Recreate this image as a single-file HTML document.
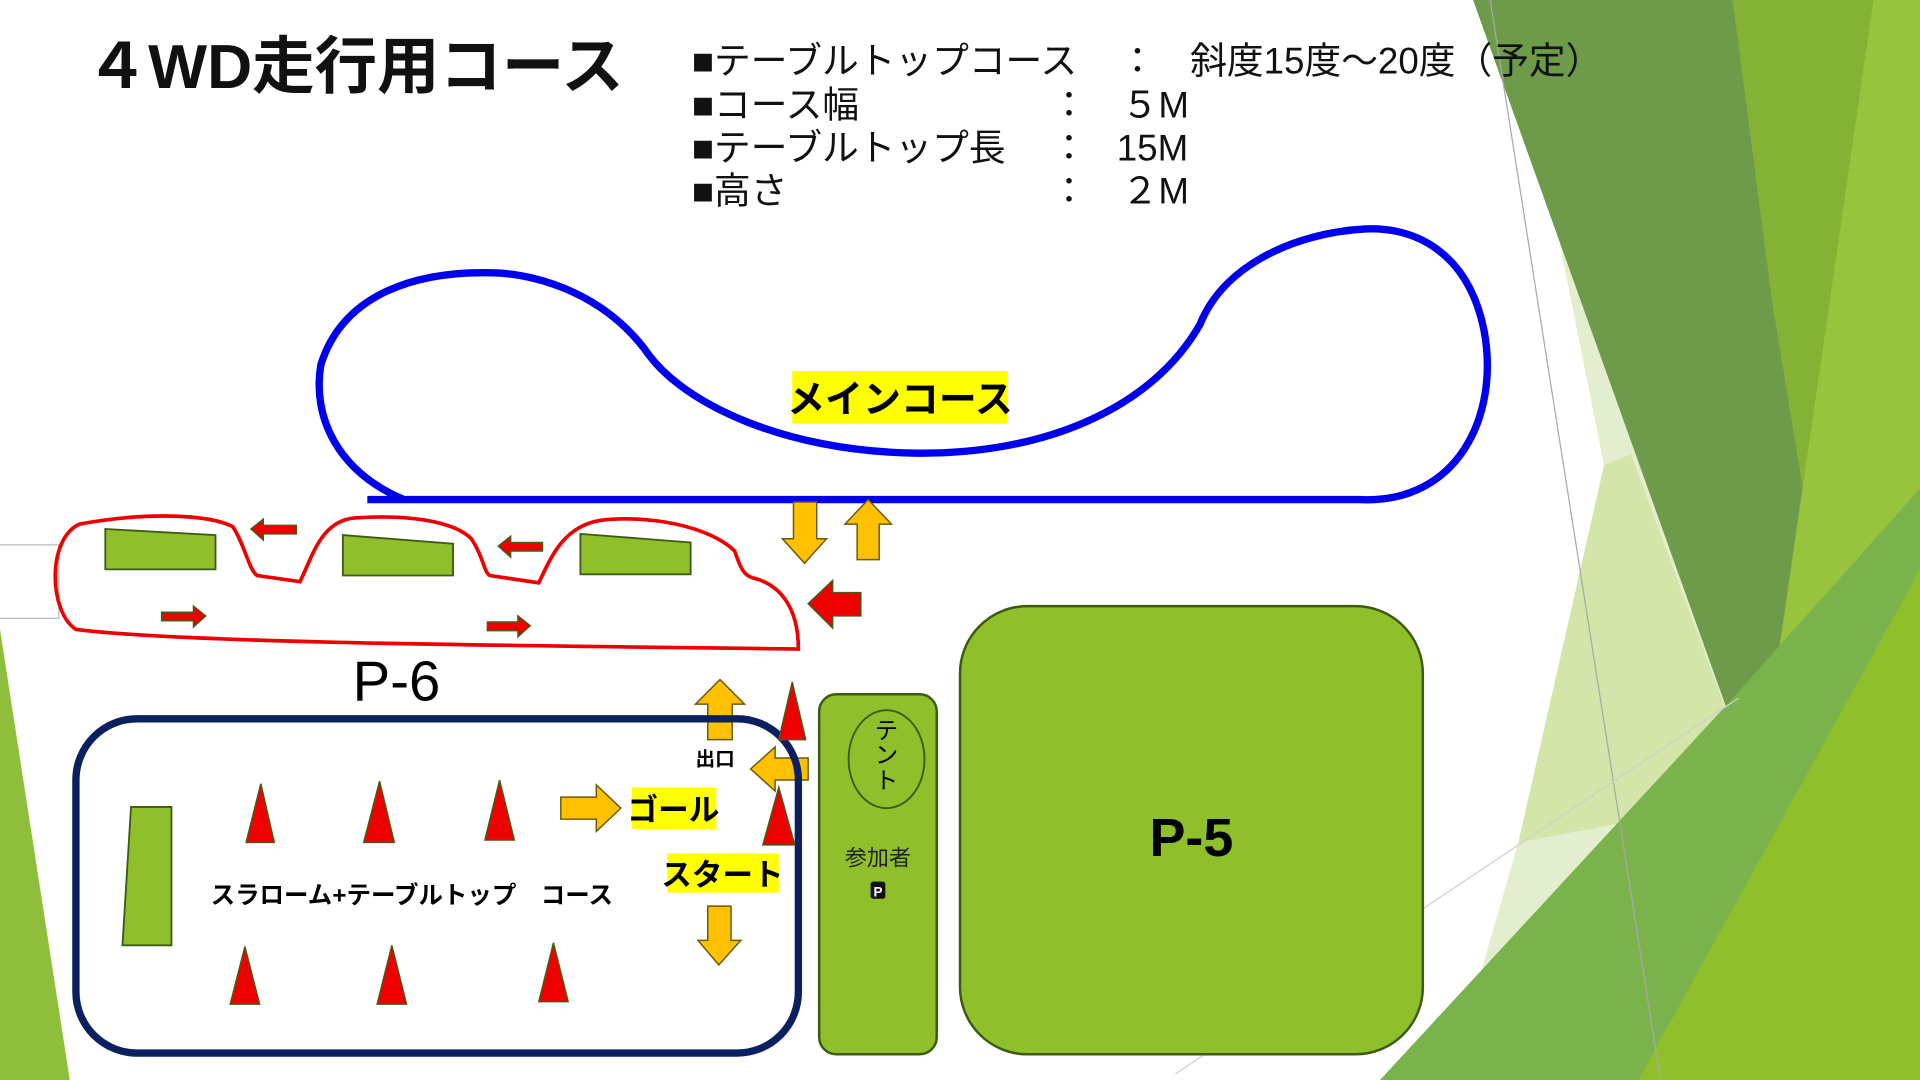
<!DOCTYPE html>
<html><head><meta charset="utf-8"><style>
html,body{margin:0;padding:0;background:#fff;overflow:hidden}
svg{display:block}
text{font-family:"Liberation Sans","Noto Sans CJK JP",sans-serif}
</style></head><body>
<svg width="1920" height="1080" viewBox="0 0 1568 882" xmlns="http://www.w3.org/2000/svg">
<rect width="1568" height="882" fill="#fff"/>
<!-- background decorations -->
<polygon points="0,514 0,882 57,882" fill="#8fbf3a"/>
<polyline points="0,445 48,445 48,505 0,505" fill="none" stroke="#bbb" stroke-width="1"/>
<polygon points="1272,190 1436,651 1184,882 1240,688 1310,380" fill="#e3eecf"/>
<polygon points="1310,380 1332,371 1436,651 1240,688" fill="#d3e5a8"/>
<polygon points="1415,0 1568,0 1568,600 1436,651" fill="#84b234"/>
<polygon points="1203,0 1415,0 1447,245 1473,403 1436,651" fill="#6d9b4a"/>
<polygon points="1530,0 1568,0 1568,882 1380,882 1426,716" fill="#97c43c"/>
<polygon points="1127,882 1408,578 1568,399 1568,882" fill="#7ab24c"/>
<polygon points="1338,882 1568,465 1568,882" fill="#8fbf2a"/>
<line x1="1217" y1="0" x2="1356" y2="882" stroke="#a8a8a8" stroke-width="1"/>
<line x1="960" y1="877" x2="1420" y2="570" stroke="#cfcfcf" stroke-width="1"/>

<!-- title -->
<text x="70" y="72" font-size="51" font-weight="bold" fill="#111">４WD走行用コース</text>
<g font-size="30" fill="#111">
<text x="565" y="60">■テーブルトップコース</text><text x="914" y="60">：</text><text x="972" y="60">斜度15度～20度（予定）</text>
<text x="565" y="96">■コース幅</text><text x="858" y="96">：</text><text x="916" y="96">５M</text>
<text x="565" y="131">■テーブルトップ長</text><text x="858" y="131">：</text><text x="912" y="131">15M</text>
<text x="565" y="166">■高さ</text><text x="858" y="166">：</text><text x="916" y="166">２M</text>
</g>

<!-- main course -->
<path d="M300,408 L1110,408 C1190,412 1225,340 1212,270 C1200,210 1160,185 1115,187 C1060,190 1000,215 980,265 C940,335 850,372 745,370 C640,368 560,330 530,290 C495,240 440,225 408,223 C340,220 280,240 262,298 C255,340 275,385 330,408" fill="none" stroke="#0000ee" stroke-width="6"/>
<rect x="647" y="303" width="176" height="43" fill="#ffff00"/>
<text x="735" y="337" font-size="31" font-weight="bold" text-anchor="middle" fill="#000">メインコース</text>

<!-- red course -->
<path d="M62,514 C40,500 38,440 65,428 C120,418 170,420 190,430 C200,445 203,465 210,470 L245,475 C255,455 262,425 290,423 C330,420 370,425 385,440 C395,455 395,467 400,470 L440,476 C450,455 460,430 490,425 C530,420 580,430 600,450 C605,465 608,470 615,472 C640,478 652,500 652,530 C400,527 150,525 62,514 Z" fill="none" stroke="#ee0000" stroke-width="3"/>
<g fill="#8fbf2a" stroke="#3e5a14" stroke-width="1.5">
<polygon points="86,432 176,437 176,465 86,465"/>
<polygon points="280,437 370,444 370,470 280,470"/>
<polygon points="474,436 564,443 564,469 474,469"/>
<polygon points="107,659 140,659 140,772 100,772"/>
</g>
<!-- red arrows -->
<g fill="#ee0000" stroke="#4a5a14" stroke-width="1.2">
<polygon points="205,432 215,424 215,429 242,429 242,436 215,436 215,441"/>
<polygon points="407,446 417,438 417,443 443,443 443,450 417,450 417,455"/>
<polygon points="168,503 158,495 158,500 132,500 132,507 158,507 158,512"/>
<polygon points="433,511 423,503 423,508 398,508 398,515 423,515 423,520"/>
<polygon points="660,493 680,474 680,484 703,484 703,503 680,503 680,513"/>
</g>
<!-- yellow arrows -->
<g fill="#ffc000" stroke="#6b5a00" stroke-width="1.2">
<polygon points="648,410 667,410 667,440 675,440 657,460 639,440 648,440"/>
<polygon points="700,457 718,457 718,428 728,428 709,408 690,428 700,428"/>
<polygon points="578,604 598,604 598,575 608,575 588,555 568,575 578,575"/>
<polygon points="660,619 660,637 633,637 633,646 613,628 633,610 633,619"/>
<polygon points="458,651 487,651 487,641 507,660 487,679 487,669 458,669"/>
<polygon points="578,740 597,740 597,768 605,768 587,788 570,768 578,768"/>
</g>

<text x="288" y="572" font-size="46" fill="#000">P-6</text>

<rect x="62" y="587" width="590" height="273" rx="50" fill="none" stroke="#0a2060" stroke-width="6"/>

<!-- cones -->
<g fill="#ee0000" stroke="#4a5a14" stroke-width="1.2">
<polygon points="213,640 224,688 201,688"/>
<polygon points="310,638 322,688 297,688"/>
<polygon points="408,637 420,686 396,686"/>
<polygon points="200,773 212,820 188,820"/>
<polygon points="320,772 332,820 308,820"/>
<polygon points="452,770 464,818 440,818"/>
<polygon points="647,557 658,604 636,604"/>
<polygon points="636,643 649,690 623,690"/>
</g>

<text x="172" y="738" font-size="20" font-weight="bold" fill="#000">スラローム+テーブルトップ　コース</text>
<rect x="516" y="643" width="69" height="34" fill="#ffff00"/>
<text x="550" y="670" font-size="25" font-weight="bold" text-anchor="middle" fill="#000">ゴール</text>
<rect x="545" y="697" width="91" height="32" fill="#ffff00"/>
<text x="590" y="723" font-size="25" font-weight="bold" text-anchor="middle" fill="#000">スタート</text>
<text x="568" y="625" font-size="16" font-weight="bold" fill="#000">出口</text>

<!-- tent -->
<rect x="669" y="567" width="96" height="294" rx="14" fill="#8fbf2a" stroke="#3a5a10" stroke-width="2"/>
<ellipse cx="724" cy="620" rx="31" ry="40" fill="none" stroke="#3a5a10" stroke-width="1.5"/>
<text x="724" y="603" font-size="19" text-anchor="middle" fill="#000">テ</text>
<text x="724" y="623" font-size="19" text-anchor="middle" fill="#000">ン</text>
<text x="724" y="644" font-size="19" text-anchor="middle" fill="#000">ト</text>
<text x="717" y="707" font-size="18" text-anchor="middle" fill="#222">参加者</text>
<rect x="711" y="720" width="12" height="14" rx="2" fill="#111"/>
<text x="717" y="732" font-size="11" font-weight="bold" text-anchor="middle" fill="#fff">P</text>

<!-- P-5 -->
<rect x="784" y="495" width="378" height="366" rx="55" fill="#8fbf2a" stroke="#3a5a10" stroke-width="2"/>
<text x="973" y="699" font-size="44" font-weight="bold" text-anchor="middle" fill="#000">P-5</text>
</svg>
</body></html>
